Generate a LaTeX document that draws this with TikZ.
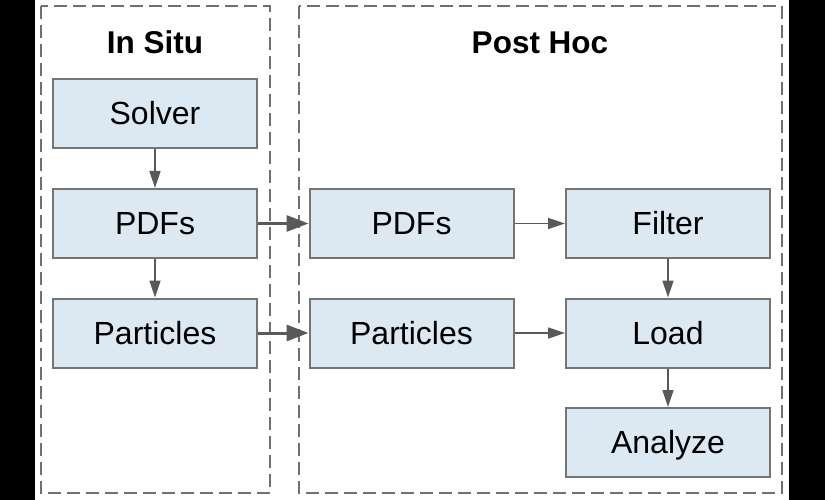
\documentclass[tikz,border=0pt]{standalone}
\usepackage{fontspec}
\setmainfont{Liberation Sans}
\usetikzlibrary{arrows.meta}
\definecolor{boxfill}{HTML}{DCE9F3}
\definecolor{boxline}{HTML}{757575}
\definecolor{arrowc}{HTML}{595959}
\definecolor{dashc}{HTML}{707070}
\begin{document}
\begin{tikzpicture}[x=1pt,y=-1pt,
  stepbox/.style={draw=boxline,fill=boxfill,line width=2pt,minimum width=204pt,minimum height=69pt,inner sep=0pt,
    font=\fontsize{32}{36}\selectfont,text height=30.4pt,text depth=7.5pt},
  titlelbl/.style={font=\fontsize{31.5}{36}\selectfont\bfseries,inner sep=0pt,text height=30pt,text depth=7.4pt},
  group/.style={draw=dashc,line width=2pt,dash pattern=on 13pt off 6pt},
  thin/.style={draw=arrowc,line width=1.5pt,-{Triangle[length=17pt,width=11pt]}},
  thick/.style={draw=arrowc,line width=3pt,-{Triangle[length=22pt,width=16pt]}}]
\useasboundingbox (0,0) rectangle (825,500);
\fill[black] (0,0) rectangle (825,500);
\fill[white] (35,0) rectangle (789,500);
\draw[group] (41,6) rectangle (270,493);
\draw[group] (299,6) rectangle (782,493);
\node[titlelbl] (tA) at (155,42) {In Situ};
\node[titlelbl] (tB) at (540,42) {Post Hoc};
\node[stepbox] (solver) at (155,113.5) {Solver};
\node[stepbox] (pdfA) at (155,223.5) {PDFs};
\node[stepbox] (partA) at (155,333) {Particles};
\node[stepbox] (pdfB) at (411.5,223.5) {PDFs};
\node[stepbox] (partB) at (411.5,333) {Particles};
\node[stepbox] (filter) at (668,223.5) {Filter};
\node[stepbox] (load) at (668,333) {Load};
\node[stepbox] (analyze) at (668,442.5) {Analyze};
\draw[thin] (solver) -- (pdfA);
\draw[thin] (pdfA) -- (partA);
\draw[thick] (pdfA) -- (pdfB);
\draw[thick] (partA) -- (partB);
\draw[thin] (pdfB) -- (filter);
\draw[thin] (partB) -- (load);
\draw[thin] (filter) -- (load);
\draw[thin] (load) -- (analyze);
\end{tikzpicture}
\end{document}
